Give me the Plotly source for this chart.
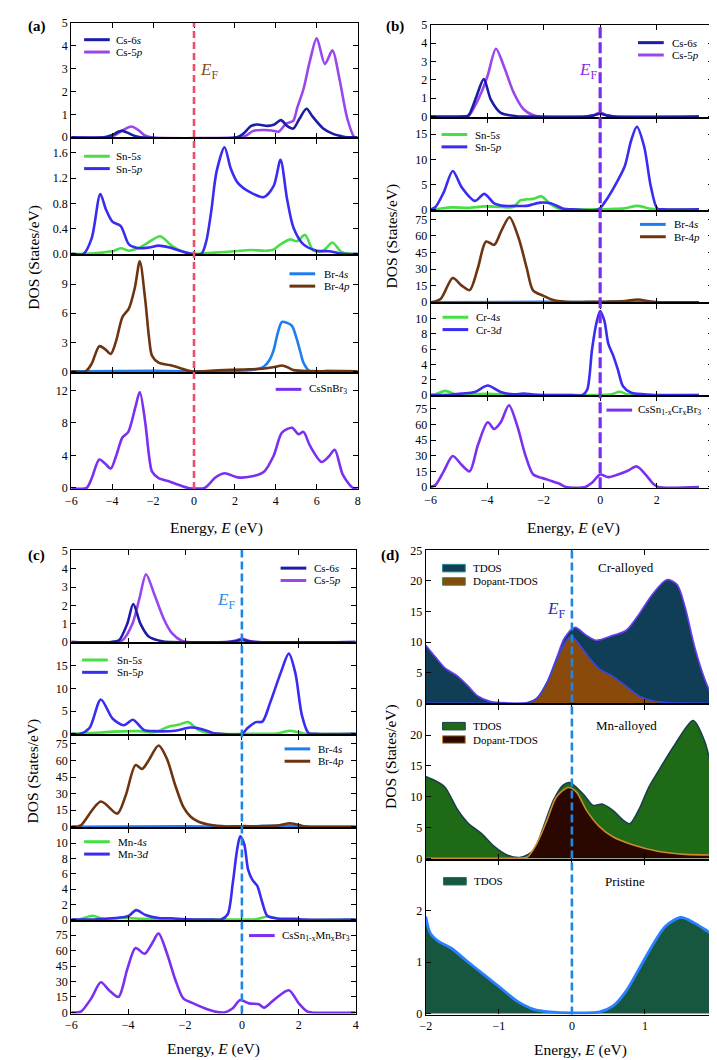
import plotly.graph_objects as go

W, H = 717, 1060
FONT = "Liberation Serif, Times New Roman, DejaVu Serif, serif"

# ---------------- data : panel (a) CsSnBr3 ----------------
a_cs6s_x = [-6, -4.4, -4.0, -3.7, -3.5, -3.2, -2.9, -2.6, 2.1, 2.4, 2.8, 3.1, 3.6, 3.9, 4.25, 4.55, 4.85, 5.15, 5.5, 5.8, 6.3, 6.8, 7.2, 7.5, 8]
a_cs6s_y = [0, 0, 0.1, 0.24, 0.28, 0.18, 0.06, 0, 0, 0.15, 0.5, 0.56, 0.5, 0.55, 0.75, 0.5, 0.38, 0.8, 1.25, 0.9, 0.4, 0.15, 0.05, 0, 0]
a_cs5p_x = [-6, -4.3, -3.9, -3.5, -3.05, -2.7, -2.4, -2.1, 2.2, 2.5, 2.9, 3.4, 3.8, 4.15, 4.5, 4.85, 5.05, 5.35, 5.67, 6.0, 6.4, 6.77, 7.1, 7.5, 7.85, 8]
a_cs5p_y = [0, 0, 0.08, 0.3, 0.47, 0.3, 0.08, 0, 0, 0.05, 0.28, 0.32, 0.3, 0.25, 0.6, 0.72, 1.3, 2.1, 3.35, 4.33, 3.2, 3.8, 2.6, 0.8, 0, 0]
a_sn5s_x = [-6, -5.2, -4.5, -3.9, -3.58, -3.2, -2.8, -2.38, -1.65, -1.1, -0.6, -0.2, 0.2, 1.0, 2.0, 2.78, 3.5, 3.9, 4.23, 4.71, 5.03, 5.43, 5.84, 6.32, 6.77, 7.2, 7.6, 8]
a_sn5s_y = [0, 0, 0.02, 0.05, 0.09, 0.05, 0.08, 0.15, 0.28, 0.13, 0.04, 0.0, 0.0, 0.02, 0.04, 0.06, 0.05, 0.07, 0.15, 0.23, 0.2, 0.3, 0.05, 0.05, 0.18, 0.03, 0, 0]
a_sn5p_x = [-6, -5.4, -5.0, -4.58, -4.3, -3.99, -3.58, -3.18, -2.7, -2.2, -1.73, -1.2, -0.6, -0.12, 0.36, 0.6, 0.84, 1.1, 1.49, 1.8, 2.13, 2.78, 3.42, 3.9, 4.23, 4.55, 4.87, 5.35, 6.0, 6.64, 7.28, 8]
a_sn5p_y = [0, 0, 0.25, 0.95, 0.7, 0.51, 0.44, 0.15, 0.09, 0.1, 0.13, 0.1, 0.04, 0.0, 0.0, 0.2, 0.67, 1.3, 1.69, 1.35, 1.13, 0.97, 0.9, 1.08, 1.49, 0.87, 0.41, 0.15, 0.05, 0.04, 0, 0]
a_br4s_x = [-6, -5.3, -2, -0.2, 0.5, 1.5, 2.46, 3.0, 3.42, 3.7, 3.9, 4.1, 4.3, 4.55, 4.79, 5.03, 5.2, 5.35, 5.67, 6.5, 8]
a_br4s_y = [0, 0.02, 0.05, 0, 0, 0.05, 0.1, 0.2, 0.5, 1.2, 2.25, 4.0, 5.1, 5.0, 4.7, 3.3, 2.0, 0.9, 0.0, 0.05, 0]
a_br4p_x = [-6, -5.3, -5.0, -4.63, -4.35, -4.07, -3.8, -3.5, -3.18, -2.89, -2.65, -2.38, -2.2, -2.05, -1.73, -1.2, -0.77, -0.12, 0.5, 1.17, 2.46, 3.42, 4.06, 4.3, 4.6, 4.87, 5.67, 7, 8]
a_br4p_y = [0, 0, 0.8, 2.6, 2.3, 1.8, 3.2, 5.6, 6.5, 8.65, 11.35, 7.3, 3.5, 1.6, 0.9, 0.65, 0.4, 0.0, 0.02, 0.1, 0.2, 0.3, 0.5, 0.6, 0.4, 0.13, 0.03, 0.02, 0]
a_tot_x = [-6, -5.25, -5.0, -4.63, -4.35, -4.07, -3.8, -3.5, -3.21, -2.86, -2.65, -2.38, -2.2, -2.05, -1.73, -1.2, -0.77, -0.28, 0.52, 0.75, 1.0, 1.49, 2.13, 2.78, 3.42, 3.9, 4.3, 4.79, 5.11, 5.35, 5.67, 6.24, 6.6, 6.88, 7.28, 7.77, 8]
a_tot_y = [0, 0, 1.2, 3.5, 3.0, 2.4, 4.0, 6.2, 6.9, 10.0, 11.8, 8.0, 4.0, 2.0, 1.2, 0.8, 0.4, 0.0, 0.0, 0.5, 1.2, 1.8, 1.3, 1.4, 2.0, 4.0, 6.8, 7.4, 6.6, 6.9, 5.2, 3.2, 3.9, 4.7, 1.6, 0.0, 0]

# ---------------- data : panel (b) Cr-alloyed ----------------
b_cs6s_x = [-6, -4.9, -4.67, -4.38, -4.12, -3.87, -3.52, -2.94, -2.5, -0.5, -0.25, 0, 0.25, 0.5, 3.5]
b_cs6s_y = [0, 0, 0.05, 1.1, 2.04, 0.92, 0.2, 0.02, 0, 0, 0.05, 0.15, 0.05, 0, 0]
b_cs5p_x = [-6, -4.9, -4.67, -4.21, -3.98, -3.69, -3.4, -3.06, -2.71, -2.37, -2.1, -0.5, -0.25, 0, 0.25, 0.5, 3.5]
b_cs5p_y = [0, 0, 0.02, 1.3, 2.25, 3.7, 2.7, 1.3, 0.4, 0.07, 0, 0, 0.07, 0.2, 0.07, 0, 0]
b_sn5s_x = [-6, -5.83, -5.25, -4.67, -4.1, -3.52, -3.06, -2.83, -2.37, -2.08, -1.79, -1.44, -1.1, 0, 0.52, 0.87, 1.33, 1.79, 2.02, 3.5]
b_sn5s_y = [0, 0.05, 0.4, 0.3, 0.6, 0.5, 0.5, 1.8, 2.1, 2.6, 1.2, 0.1, 0, 0, 0.1, 0.2, 0.7, 0.1, 0, 0]
b_sn5p_x = [-6, -5.83, -5.54, -5.22, -4.9, -4.44, -4.1, -3.75, -3.4, -3.06, -2.6, -2.13, -1.73, -1.33, -0.98, -0.06, 0.17, 0.52, 0.87, 1.1, 1.3, 1.56, 1.79, 2.02, 2.25, 3.5]
b_sn5p_y = [0, 0.5, 3.4, 7.66, 4.4, 1.7, 3.1, 1.2, 0.7, 0.7, 0.7, 1.35, 1.2, 0.2, 0, 0, 1.5, 4.7, 8.6, 13.8, 16.5, 12.5, 4.7, 0.2, 0, 0]
b_br4s_x = [-6, -2, 0, 1.3, 2, 3.5]
b_br4s_y = [0, 0.3, 0.2, 0.6, 0, 0]
b_br4p_x = [-6, -5.65, -5.22, -4.9, -4.62, -4.33, -4.04, -3.75, -3.52, -3.21, -2.88, -2.6, -2.37, -2.02, -1.67, -1.21, -0.5, 0.2, 0.87, 1.33, 1.79, 2.1, 3.5]
b_br4p_y = [0, 3, 22, 15, 11, 31, 55, 52, 63.5, 77, 57.6, 31, 10.5, 6, 2, 0.5, 0.3, 0.5, 1, 2.5, 0.6, 0, 0]
b_cr4s_x = [-6, -5.83, -5.48, -5.08, -4.67, -3.98, -3.06, -2, -1, 0, 0.4, 0.69, 0.95, 1.3, 3.5]
b_cr4s_y = [0, 0.1, 0.55, 0.05, 0.1, 0.17, 0.05, 0.02, 0, 0.02, 0.1, 0.43, 0.1, 0, 0]
b_cr3d_x = [-6, -5.3, -4.9, -4.44, -3.98, -3.52, -3.06, -2.71, -2.3, -1, -0.63, -0.46, -0.29, -0.14, 0, 0.15, 0.29, 0.46, 0.63, 0.81, 1.1, 1.79, 2.1, 3.5]
b_cr3d_y = [0, 0.05, 0.2, 0.4, 1.25, 0.4, 0.1, 0.2, 0.05, 0, 0, 0.7, 5.9, 9.3, 11.0, 9.7, 6.7, 5.2, 3.3, 1.15, 0.3, 0.05, 0, 0]
b_tot_x = [-6, -5.83, -5.54, -5.22, -4.9, -4.62, -4.33, -3.98, -3.75, -3.52, -3.23, -2.94, -2.65, -2.37, -2.08, -1.79, -1.44, -1.21, -0.52, -0.29, 0, 0.29, 0.63, 0.98, 1.3, 1.61, 1.9, 2.05, 3.5]
b_tot_y = [0, 1.9, 15, 29.7, 21, 15, 40, 62, 55.6, 62, 78.4, 59, 30.6, 11.9, 8.8, 6.3, 3.1, 0, 0, 4, 11.9, 9.4, 11.9, 15.6, 19.7, 11.9, 2.5, 0, 0]

# ---------------- data : panel (c) Mn-alloyed ----------------
c_cs6s_x = [-6, -4.6, -4.32, -4.03, -3.82, -3.57, -3.28, -2.81, -2.5, -0.5, -0.25, 0, 0.25, 0.5, 4]
c_cs6s_y = [0, 0, 0.1, 1.0, 2.07, 1.0, 0.3, 0.04, 0, 0, 0.04, 0.12, 0.04, 0, 0]
c_cs5p_x = [-6, -4.5, -4.2, -3.85, -3.6, -3.37, -3.08, -2.73, -2.47, -2.12, -1.9, -0.5, -0.25, 0, 0.25, 0.5, 4]
c_cs5p_y = [0, 0, 0.1, 1.0, 2.4, 3.7, 2.6, 1.2, 0.5, 0.07, 0, 0, 0.07, 0.18, 0.07, 0, 0]
c_sn5s_x = [-6, -5.7, -4.96, -4.55, -3.6, -3.05, -2.58, -2.23, -1.89, -1.54, -1.19, -0.9, 0, 1.24, 1.7, 2.17, 2.4, 4]
c_sn5s_y = [0, 0.1, 0.3, 0.5, 0.6, 0.4, 1.6, 2.0, 2.6, 0.9, 0.2, 0, 0, 0.1, 0.7, 0.1, 0, 0]
c_sn5p_x = [-6, -5.7, -5.36, -4.96, -4.55, -4.15, -3.83, -3.45, -3.05, -2.35, -1.83, -1.43, -1.02, -0.75, 0, 0.2, 0.49, 0.72, 1.0, 1.36, 1.65, 1.88, 2.11, 2.34, 2.6, 4]
c_sn5p_y = [0, 0, 1.3, 7.6, 3.4, 1.9, 3.1, 0.9, 0.6, 0.7, 1.4, 1.1, 0.2, 0, 0, 1.3, 2.6, 2.7, 7, 13.4, 17.7, 13.4, 4.1, 0.2, 0, 0]
c_br4s_x = [-6, -2, 0, 1.7, 2.2, 4]
c_br4s_y = [0, 0.3, 0.2, 1.0, 0, 0]
c_br4p_x = [-6, -5.8, -5.65, -4.96, -4.38, -4.09, -3.74, -3.51, -3.28, -2.93, -2.64, -2.35, -2.06, -1.8, -1.54, -1.08, -0.6, 0, 0.6, 1.24, 1.7, 2.17, 2.4, 4]
c_br4p_y = [0, 0, 1.5, 22.8, 11.9, 28, 55.8, 52.3, 60, 73.5, 61.7, 38, 18, 9, 4.7, 1.5, 0.3, 0.5, 0.5, 1.0, 3.1, 0.5, 0, 0]
c_mn4s_x = [-6, -5.7, -5.25, -4.9, -4.2, -3.39, -2.2, -1.5, 0, 0.5, 0.89, 1.24, 1.5, 4]
c_mn4s_y = [0, 0.05, 0.5, 0.1, 0.2, 0.1, 0.05, 0, 0, 0.05, 0.4, 0.15, 0, 0]
c_mn3d_x = [-6, -5.2, -4.78, -4.2, -3.97, -3.72, -3.39, -2.93, -2.47, -2.0, -1.0, -0.73, -0.5, -0.32, -0.17, -0.06, 0.08, 0.22, 0.37, 0.54, 0.72, 0.89, 1.24, 1.94, 2.2, 4]
c_mn3d_y = [0, 0.02, 0.1, 0.3, 0.5, 1.24, 0.6, 0.2, 0.17, 0.05, 0, 0, 0.7, 4.8, 9.1, 10.9, 9.9, 6.5, 5.2, 4.4, 2.2, 0.5, 0.15, 0.1, 0, 0]
c_tot_x = [-6, -5.8, -5.65, -5.3, -4.96, -4.67, -4.34, -4.03, -3.74, -3.42, -3.16, -2.93, -2.64, -2.35, -2.06, -1.71, -1.31, -0.96, -0.61, -0.32, -0.06, 0.25, 0.6, 0.78, 1.12, 1.65, 2.0, 2.29, 2.45, 4]
c_tot_y = [0, 0, 1, 13.5, 29.3, 21.5, 15.1, 42, 62.5, 57, 67, 76.7, 57.7, 32.5, 13.6, 8.8, 4.1, 1, 0, 4, 12, 8.8, 7.9, 4.7, 12, 21.5, 8.8, 1, 0, 0]

# ---------------- data : panel (d) near E_F ----------------
d_cr_tdos_x = [-2, -1.87, -1.74, -1.56, -1.42, -1.29, -1.11, -0.88, -0.61, -0.48, -0.34, -0.21, -0.1, 0.04, 0.2, 0.33, 0.56, 0.74, 0.92, 1.1, 1.3, 1.44, 1.55, 1.68, 1.82, 1.93, 2.0]
d_cr_tdos_y = [9.5, 7.6, 5.8, 4.4, 2.8, 1.2, 0.27, 0.05, 0.1, 0.8, 3.4, 7.4, 10.7, 12.4, 11.1, 10.3, 11.1, 11.9, 14.6, 17.8, 20.2, 19.4, 15.7, 9.2, 3.9, 1.0, 0.4]
d_cr_dop_x = [-2, -1.0, -0.61, -0.48, -0.34, -0.21, -0.1, -0.01, 0.11, 0.24, 0.38, 0.56, 0.74, 0.92, 1.1, 1.28, 2.0]
d_cr_dop_y = [0, 0, 0.05, 0.8, 3.4, 7.1, 9.8, 11.0, 9.5, 7.4, 5.6, 4.4, 2.8, 1.2, 0.4, 0.1, 0]
d_mn_tdos_x = [-2, -1.87, -1.74, -1.56, -1.42, -1.24, -1.06, -0.88, -0.7, -0.52, -0.39, -0.25, -0.12, -0.03, 0.15, 0.29, 0.42, 0.56, 0.7, 0.79, 0.92, 1.05, 1.2, 1.41, 1.66, 1.82, 1.93, 2.0]
d_mn_tdos_y = [13.3, 12.6, 11.6, 7.8, 5.7, 4.05, 1.9, 0.5, 0.16, 1.35, 5.1, 9.5, 11.9, 12.3, 10.5, 8.6, 8.8, 7.8, 6.2, 5.6, 8.0, 11.5, 14.5, 18.5, 22.4, 18.9, 13.6, 10.5]
d_mn_dop_x = [-2, -0.9, -0.7, -0.61, -0.48, -0.34, -0.21, -0.05, 0.06, 0.2, 0.38, 0.56, 0.83, 1.19, 1.55, 2.0]
d_mn_dop_y = [0, 0, 0.05, 0.2, 2.4, 6.2, 10, 11.5, 10.8, 7.8, 5.1, 3.5, 2.2, 1.1, 0.65, 0.54]
d_pri_x = [-2, -1.94, -1.83, -1.65, -1.42, -1.2, -0.97, -0.75, -0.52, -0.3, 0, 0.38, 0.56, 0.74, 0.92, 1.1, 1.28, 1.49, 1.68, 1.86, 2.0]
d_pri_y = [1.89, 1.57, 1.41, 1.27, 1.0, 0.75, 0.49, 0.24, 0.08, 0.03, 0.01, 0.03, 0.14, 0.43, 0.87, 1.32, 1.7, 1.87, 1.76, 1.6, 1.48]

# tick labels
ticks_x_wide = [-6, -4, -2, 0, 2, 4, 6, 8]
ticks_x_mid = [-6, -4, -2, 0, 2, 4]
ticks_x_d = [-2, -1, 0, 1, 2]

# ---------------- colours ----------------
C_CS6S = "#1c1ca8"
C_CS5P = "#9a46ee"
C_S = "#44e044"
C_P = "#3a2cf0"
C_BR4S = "#1e7ef0"
C_BR4P = "#6e3410"
C_TOT = "#7b2ff0"

fig = go.Figure()
layout = {}


def px(x):
    return x / W


def py(y):
    return 1 - y / H


ax_count = [0]


def add_axes(xpx, ypx, xr, xt, show_xl, yr, yt, yfmt=None):
    ax_count[0] += 1
    i = ax_count[0]
    sfx = "" if i == 1 else str(i)
    pad = (yr[1] - yr[0]) * 1.2 / (ypx[1] - ypx[0])
    common = dict(showline=True, linecolor="black", linewidth=1.2, mirror="ticks",
                  ticks="inside", ticklen=5, tickwidth=1, tickcolor="black",
                  showgrid=False, zeroline=False,
                  tickfont=dict(family=FONT, size=12, color="black"))
    layout["xaxis" + sfx] = dict(domain=[px(xpx[0]), px(xpx[1])], range=xr, tickvals=xt,
                                 showticklabels=show_xl, anchor="y" + sfx, **common)
    ya = dict(domain=[py(ypx[1]), py(ypx[0])], range=[yr[0] - pad, yr[1]], tickvals=yt,
              anchor="x" + sfx, **common)
    if yfmt:
        ya["tickformat"] = yfmt
    layout["yaxis" + sfx] = ya
    return "x" + sfx, "y" + sfx


def line(xr_, yr_, x, y, color, width=2.6):
    fig.add_trace(go.Scatter(x=x, y=y, xaxis=xr_, yaxis=yr_, mode="lines",
                             line=dict(color=color, width=width, shape="spline", smoothing=0.8),
                             showlegend=False, hoverinfo="skip"))


def area(xr_, yr_, x, y, fill, edge, width=1.6):
    fig.add_trace(go.Scatter(x=x, y=y, xaxis=xr_, yaxis=yr_, mode="lines", fill="tozeroy",
                             fillcolor=fill,
                             line=dict(color=edge, width=width, shape="spline", smoothing=0.8),
                             showlegend=False, hoverinfo="skip"))


shapes = []
annotations = []


def legend(lx, tx, y0, items, step=12.5, box=False):
    for k, (label, color, edge) in enumerate(items):
        yy = y0 + k * step
        if box:
            shapes.append(dict(type="rect", xref="paper", yref="paper",
                               x0=px(lx), x1=px(lx + 23), y0=py(yy + 3.8), y1=py(yy - 3.8),
                               fillcolor=color, line=dict(color=edge, width=1)))
        else:
            shapes.append(dict(type="line", xref="paper", yref="paper",
                               x0=px(lx), x1=px(lx + 26), y0=py(yy), y1=py(yy),
                               line=dict(color=color, width=3)))
        annotations.append(dict(text=label, xref="paper", yref="paper", x=px(tx), y=py(yy),
                                xanchor="left", yanchor="middle", showarrow=False,
                                font=dict(family=FONT, size=11, color="black")))


def text(t, x, y, size=13, color="black", xa="center", angle=0):
    annotations.append(dict(text=t, xref="paper", yref="paper", x=px(x), y=py(y),
                            xanchor=xa, yanchor="middle", showarrow=False, textangle=angle,
                            font=dict(family=FONT, size=size, color=color)))


def vline(xref, ytop, ybot, color, width, dash):
    shapes.append(dict(type="line", xref=xref, yref="paper", x0=0, x1=0,
                       y0=py(ybot), y1=py(ytop), layer="above",
                       line=dict(color=color, width=width, dash=dash)))


# ---------------- panel (a) ----------------
XA = [58, 348]
xa1, ya1 = add_axes(XA, [8, 125], [-6, 8], ticks_x_wide, False, [0, 5], [0, 1, 2, 3, 4, 5])
line(xa1, ya1, a_cs5p_x, a_cs5p_y, C_CS5P)
line(xa1, ya1, a_cs6s_x, a_cs6s_y, C_CS6S)
xa2, ya2 = add_axes(XA, [125, 243], [-6, 8], ticks_x_wide, False, [0, 1.83], [0, 0.4, 0.8, 1.2, 1.6], ".1f")
line(xa2, ya2, a_sn5s_x, a_sn5s_y, C_S)
line(xa2, ya2, a_sn5p_x, a_sn5p_y, C_P)
xa3, ya3 = add_axes(XA, [243, 362], [-6, 8], ticks_x_wide, False, [0, 12], [0, 3, 6, 9])
line(xa3, ya3, a_br4s_x, a_br4s_y, C_BR4S)
line(xa3, ya3, a_br4p_x, a_br4p_y, C_BR4P)
xa4, ya4 = add_axes(XA, [362, 480], [-6, 8], ticks_x_wide, True, [0, 14.2], [0, 4, 8, 12])
line(xa4, ya4, a_tot_x, a_tot_y, C_TOT)
vline(xa4, 8, 480, "#ee4d6b", 2.6, "7px,4px")
legend(71, 101, 25, [("Cs-6<i>s</i>", C_CS6S, None), ("Cs-5<i>p</i>", C_CS5P, None)])
legend(71, 101, 143, [("Sn-5<i>s</i>", C_S, None), ("Sn-5<i>p</i>", C_P, None)])
legend(279, 312, 262, [("Br-4<i>s</i>", C_BR4S, None), ("Br-4<i>p</i>", C_BR4P, None)])
legend(265, 297, 379, [("CsSnBr<sub>3</sub>", C_TOT, None)])
text("<i>E</i><sub>F</sub>", 186, 57, size=17, color="#8b4a14", xa="left")

# ---------------- panel (b) ----------------
XB = [422, 708]
xb1, yb1 = add_axes(XB, [10, 104], [-6, 4], ticks_x_mid, False, [0, 5], [0, 1, 2, 3, 4, 5])
line(xb1, yb1, b_cs5p_x, b_cs5p_y, C_CS5P)
line(xb1, yb1, b_cs6s_x, b_cs6s_y, C_CS6S)
xb2, yb2 = add_axes(XB, [104, 198], [-6, 4], ticks_x_mid, False, [0, 18.3], [0, 5, 10, 15])
line(xb2, yb2, b_sn5s_x, b_sn5s_y, C_S)
line(xb2, yb2, b_sn5p_x, b_sn5p_y, C_P)
xb3, yb3 = add_axes(XB, [198, 292], [-6, 4], ticks_x_mid, False, [0, 83], [0, 15, 30, 45, 60, 75])
line(xb3, yb3, b_br4s_x, b_br4s_y, C_BR4S)
line(xb3, yb3, b_br4p_x, b_br4p_y, C_BR4P)
xb4, yb4 = add_axes(XB, [292, 386], [-6, 4], ticks_x_mid, False, [0, 12], [0, 2, 4, 6, 8, 10])
line(xb4, yb4, b_cr4s_x, b_cr4s_y, C_S)
line(xb4, yb4, b_cr3d_x, b_cr3d_y, C_P)
xb5, yb5 = add_axes(XB, [386, 479], [-6, 4], ticks_x_mid, True, [0, 87], [0, 15, 30, 45, 60, 75])
line(xb5, yb5, b_tot_x, b_tot_y, C_TOT)
vline(xb5, 10, 479, "#7a2cf0", 3.2, "11px,4px")
legend(632, 664, 28, [("Cs-6<i>s</i>", C_CS6S, None), ("Cs-5<i>p</i>", C_CS5P, None)])
legend(433, 465, 121, [("Sn-5<i>s</i>", C_S, None), ("Sn-5<i>p</i>", C_P, None)])
legend(634, 666, 212, [("Br-4<i>s</i>", C_BR4S, None), ("Br-4<i>p</i>", C_BR4P, None)])
legend(434, 466, 306, [("Cr-4<i>s</i>", C_S, None), ("Cr-3<i>d</i>", C_P, None)])
legend(600, 630, 400, [("CsSn<sub>1-x</sub>Cr<sub>x</sub>Br<sub>3</sub>", C_TOT, None)])
text("<i>E</i><sub>F</sub>", 592, 57, size=17, color="#8a2be2", xa="right")

# ---------------- panel (c) ----------------
XC = [58, 346]
xc1, yc1 = add_axes(XC, [542, 636], [-6, 4], ticks_x_mid, False, [0, 5], [0, 1, 2, 3, 4, 5])
line(xc1, yc1, c_cs5p_x, c_cs5p_y, C_CS5P)
line(xc1, yc1, c_cs6s_x, c_cs6s_y, C_CS6S)
xc2, yc2 = add_axes(XC, [636, 729], [-6, 4], ticks_x_mid, False, [0, 20], [0, 5, 10, 15])
line(xc2, yc2, c_sn5s_x, c_sn5s_y, C_S)
line(xc2, yc2, c_sn5p_x, c_sn5p_y, C_P)
xc3, yc3 = add_axes(XC, [729, 823], [-6, 4], ticks_x_mid, False, [0, 83], [0, 15, 30, 45, 60, 75])
line(xc3, yc3, c_br4s_x, c_br4s_y, C_BR4S)
line(xc3, yc3, c_br4p_x, c_br4p_y, C_BR4P)
xc4, yc4 = add_axes(XC, [823, 917], [-6, 4], ticks_x_mid, False, [0, 12], [0, 2, 4, 6, 8, 10])
line(xc4, yc4, c_mn4s_x, c_mn4s_y, C_S)
line(xc4, yc4, c_mn3d_x, c_mn3d_y, C_P)
xc5, yc5 = add_axes(XC, [917, 1011], [-6, 4], ticks_x_mid, True, [0, 89], [0, 15, 30, 45, 60, 75])
line(xc5, yc5, c_tot_x, c_tot_y, C_TOT)
vline(xc5, 542, 1011, "#1f86e3", 2.6, "8px,4px")
legend(270, 302, 560, [("Cs-6<i>s</i>", C_CS6S, None), ("Cs-5<i>p</i>", C_CS5P, None)])
legend(69, 102, 653, [("Sn-5<i>s</i>", C_S, None), ("Sn-5<i>p</i>", C_P, None)])
legend(274, 306, 743, [("Br-4<i>s</i>", C_BR4S, None), ("Br-4<i>p</i>", C_BR4P, None)])
legend(71, 103, 837, [("Mn-4<i>s</i>", C_S, None), ("Mn-3<i>d</i>", C_P, None)])
legend(238, 269, 932, [("CsSn<sub>1-x</sub>Mn<sub>x</sub>Br<sub>3</sub>", C_TOT, None)])
text("<i>E</i><sub>F</sub>", 226, 593, size=17, color="#2a88e6", xa="right")

# ---------------- panel (d) ----------------
XD = [417, 713]
xd1, yd1 = add_axes(XD, [542, 698], [-2, 2], ticks_x_d, False, [0, 25], [0, 5, 10, 15, 20, 25])
area(xd1, yd1, d_cr_tdos_x, d_cr_tdos_y, "#103e56", "#6a3cf2")
area(xd1, yd1, d_cr_dop_x, d_cr_dop_y, "#8a4a0c", "#3446e6")
xd2, yd2 = add_axes(XD, [698, 855], [-2, 2], ticks_x_d, False, [0, 25], [0, 5, 10, 15, 20])
area(xd2, yd2, d_mn_tdos_x, d_mn_tdos_y, "#1f6a16", "#1a3f4c")
area(xd2, yd2, d_mn_dop_x, d_mn_dop_y, "#2a0800", "#cf8a2c")
xd3, yd3 = add_axes(XD, [855, 1012], [-2, 2], ticks_x_d, True, [0, 3], [0, 1, 2])
area(xd3, yd3, d_pri_x, d_pri_y, "#17573f", "#2a80ff", width=2.8)
vline(xd3, 542, 1012, "#1f86e3", 2.6, "8px,4px")
legend(434, 463, 560, [("TDOS", "#103e56", "#2a8a8a"), ("Dopant-TDOS", "#8a4a0c", "#3a8a3a")], step=13.5, box=True)
legend(434, 463, 720, [("TDOS", "#1f6a16", "#1a3f4c"), ("Dopant-TDOS", "#2a0800", "#cf8a2c")], step=13.5, box=True)
legend(435, 464, 877, [("TDOS", "#17573f", "#2a7060")], box=True)
text("Cr-alloyed", 620, 559, size=13)
text("Mn-alloyed", 620, 719, size=13)
text("Pristine", 619, 877, size=13)
text("<i>E</i><sub>F</sub>", 560, 602, size=17, color="#2a2ab4", xa="right")

# ---------------- shared labels ----------------
for (lbl, x, y) in [("(a)", 23, 12), ("(b)", 386, 12), ("(c)", 23, 547), ("(d)", 381, 547)]:
    text("<b>" + lbl + "</b>", x, y, size=15)
for (x, y) in [(20, 245), (383, 224), (19, 765), (382, 751)]:
    text("DOS (States/eV)", x, y, size=15.5, angle=-90)
for (x, y) in [(205, 519), (567, 519), (202, 1047), (574, 1048)]:
    text("Energy, <i>E</i> (eV)", x, y, size=15.5)

layout.update(dict(width=W, height=H, margin=dict(l=0, r=0, t=0, b=0),
                   paper_bgcolor="white", plot_bgcolor="white",
                   shapes=shapes, annotations=annotations, showlegend=False,
                   font=dict(family=FONT, color="black")))
fig.update_layout(**layout)
fig.write_html("out.html")
